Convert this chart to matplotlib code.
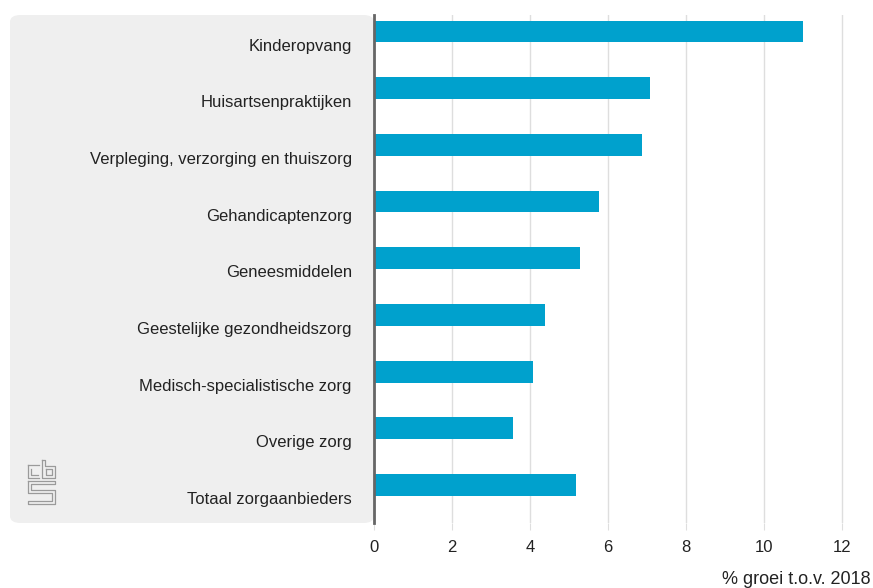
import matplotlib.pyplot as plt
from matplotlib.patches import FancyBboxPatch
from matplotlib.lines import Line2D
from matplotlib.transforms import ScaledTranslation

plt.rcParams['font.family'] = ['Liberation Sans', 'DejaVu Sans']

categories = ["Kinderopvang", "Huisartsenpraktijken", "Verpleging, verzorging en thuiszorg",
              "Gehandicaptenzorg", "Geneesmiddelen", "Geestelijke gezondheidszorg",
              "Medisch-specialistische zorg", "Overige zorg", "Totaal zorgaanbieders"]
groei = [11.0, 7.07, 6.87, 5.77, 5.29, 4.39, 4.08, 3.56, 5.18]
xticks = [0, 2, 4, 6, 8, 10, 12]

W, H = 873, 588
fig = plt.figure(figsize=(W / 100, H / 100), dpi=100)

# grey panel behind the category labels
panel = FancyBboxPatch((10 / W, 1 - 523 / H), (374 - 10) / W, (523 - 15) / H,
                       boxstyle="round,pad=0,rounding_size=0.012",
                       transform=fig.transFigure, facecolor='#efefef',
                       edgecolor='none', zorder=-1)
fig.patches.append(panel)

# cbs logo (simplified outline)
def fx(px):
    return px / W

def fy(py):
    return 1 - py / H

lc = '#9a9a9a'
lw = 0.9
segs = [
    # c
    [(28, 465), (28, 478), (39, 478)], [(28, 465), (39, 465)], [(31, 469), (31, 475), (38, 475)],
    # b
    [(42, 460), (42, 478), (55, 478), (55, 466), (45, 466), (45, 460), (42, 460)],
    [(46, 469), (52, 469), (52, 475), (46, 475), (46, 469)],
    # s
    [(28, 481), (55, 481), (55, 484), (31, 484), (31, 490), (55, 490), (55, 504), (28, 504),
     (28, 501), (52, 501), (52, 493), (28, 493), (28, 481)],
]
for s in segs:
    fig.add_artist(Line2D([fx(p[0]) for p in s], [fy(p[1]) for p in s],
                          transform=fig.transFigure, color=lc, lw=lw, zorder=-0.5))

ax_left, ax_right = 374 / W, 858 / W
ax_top, ax_bot = 1 - 15 / H, 1 - 523 / H
ax = fig.add_axes([ax_left, ax_bot, ax_right - ax_left, ax_top - ax_bot])
ax.patch.set_alpha(0)

ypos = list(range(len(categories)))
ax.barh(ypos, groei, height=0.385, color='#00a1cd', zorder=3)

ax.set_xlim(0, 12.4)
ax.set_ylim(8 + 38 / 56.6, -16.5 / 56.6)
ax.set_xticks(xticks)
ax.set_xticklabels([str(t) for t in xticks])
ax.set_yticks(ypos)
ax.set_yticklabels(categories)
ax.grid(axis='x', color='#dedede', lw=1, zorder=0)

for sp in ['top', 'right', 'bottom']:
    ax.spines[sp].set_visible(False)
ax.spines['left'].set_color('#666666')
ax.spines['left'].set_linewidth(2)
ax.spines['left'].set_zorder(4)

ax.tick_params(axis='y', length=0, pad=16, labelsize=12, labelcolor='#222222')
ax.tick_params(axis='x', length=5, color='#dedede', pad=7.5, labelsize=12, labelcolor='#222222')

# category labels sit a little below the bar centre
shift = ScaledTranslation(0, -13 / 100, fig.dpi_scale_trans)
for lab in ax.get_yticklabels():
    lab.set_transform(lab.get_transform() + shift)

fig.text(871 / W, 1 - 580 / H, "% groei t.o.v. 2018", ha='right', va='center',
         fontsize=13, color='#222222')

fig.savefig('out.png', dpi=100)
